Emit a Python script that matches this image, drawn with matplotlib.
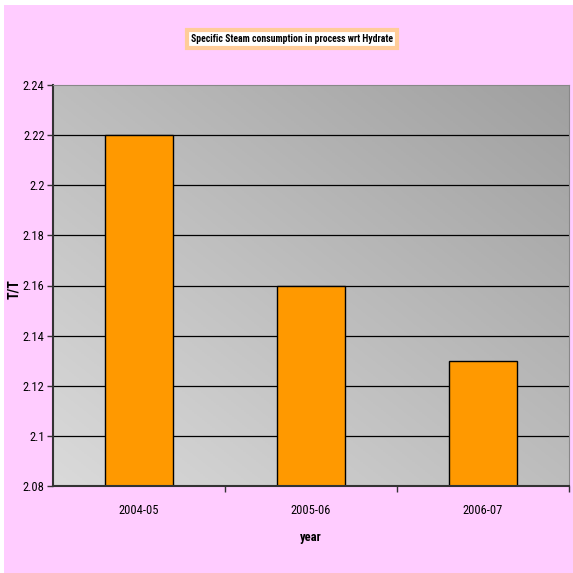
import numpy as np
import matplotlib.pyplot as plt
from matplotlib import font_manager
from matplotlib.colors import LinearSegmentedColormap
from matplotlib.patches import Rectangle

years = ['2004-05', '2005-06', '2006-07']
steam = [2.22, 2.16, 2.13]
yticks = [2.08, 2.10, 2.12, 2.14, 2.16, 2.18, 2.20, 2.22, 2.24]
ytick_labels = ['2.08', '2.1', '2.12', '2.14', '2.16', '2.18', '2.2', '2.22', '2.24']

# prefer a narrow face if one is installed
installed = {f.name for f in font_manager.fontManager.ttflist}
narrow = [n for n in ['Liberation Sans Narrow', 'DejaVu Sans Condensed', 'Roboto Condensed',
                      'Open Sans Condensed', 'Arial Narrow'] if n in installed]
plt.rcParams['font.family'] = narrow + ['Liberation Sans', 'DejaVu Sans']

W, H = 573, 573
fig = plt.figure(figsize=(W / 100, H / 100), dpi=100, facecolor='white')

# pink chart area, leaving a thin white margin at top/left
fig.patches.append(Rectangle((4 / W, 0), 1 - 4 / W, 1 - 5 / H, transform=fig.transFigure,
                             facecolor='#FFCCFF', edgecolor='none', zorder=-10))

ax = fig.add_axes([53 / W, 1 - 486 / H, (569 - 53) / W, (486 - 85) / H])
ax.set_xlim(0, 3)
ax.set_ylim(2.08, 2.24)

# diagonal grey gradient: light bottom-left, dark top-right
gx, gy = np.meshgrid(np.linspace(0, 1, 200), np.linspace(0, 1, 200))
grad = (gx + gy) / 2
ax.imshow(grad, extent=[0, 3, 2.08, 2.24], origin='lower', aspect='auto',
          cmap=LinearSegmentedColormap.from_list('g', ['#DADADA', '#A0A0A0']), zorder=0)

for t in yticks[1:-1]:
    ax.axhline(t, color='black', lw=0.9, zorder=1)

x = np.arange(len(years)) + 0.5
ax.bar(x, [v - 2.08 for v in steam], bottom=2.08, width=0.4, color='#FF9900',
       edgecolor='black', linewidth=1.0, zorder=2)

ax.set_yticks(yticks)
ax.set_yticklabels(ytick_labels, fontsize=9)
ax.set_xticks([1, 2, 3])
ax.set_xticklabels([])
ax.set_xticks(x, minor=True)
ax.set_xticklabels(years, minor=True, fontsize=9)
ax.tick_params(axis='x', which='minor', length=0, pad=13)
ax.tick_params(axis='x', which='major', length=4, width=1, color='#333333')
ax.tick_params(axis='y', length=4, width=1, color='#333333', pad=2)

for s in ['left', 'bottom']:
    ax.spines[s].set_color('#333333')
    ax.spines[s].set_linewidth(1.5)
for s in ['top', 'right']:
    ax.spines[s].set_color('#888888')
    ax.spines[s].set_linewidth(0.8)

ax.set_xlabel('year', fontsize=9, fontweight='bold', labelpad=10)
ax.set_ylabel('T/T', fontsize=10, fontweight='bold')
ax.yaxis.set_label_coords(-0.062, 0.49)

fig.text((195 + 389) / 2 / W, 1 - 39 / H, 'Specific Steam consumption in process wrt Hydrate',
         ha='center', va='center', fontsize=7 if narrow else 6, fontweight='bold',
         bbox=dict(boxstyle='square,pad=0.45', facecolor='white', edgecolor='#FFCC99', linewidth=3))

fig.savefig('out.png', dpi=100)
